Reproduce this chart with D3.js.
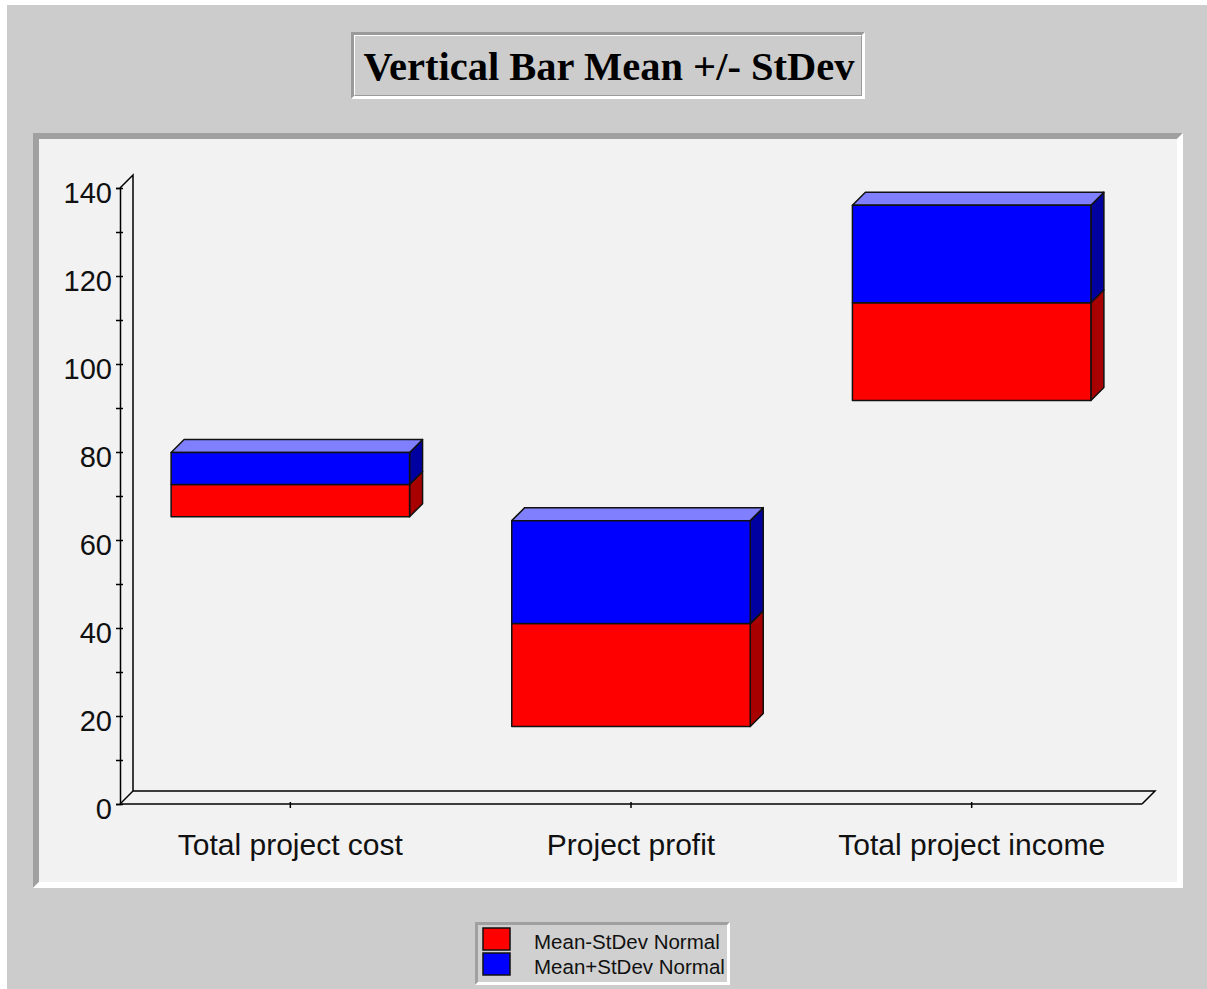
<!DOCTYPE html>
<html>
<head>
<meta charset="utf-8">
<script src="https://cdn.jsdelivr.net/npm/d3@7"></script>
<style>
  html, body { margin: 0; padding: 0; background: #ffffff; }
  svg { display: block; }
</style>
</head>
<body>
<svg id="chart" width="1207" height="989"></svg>
<script>
// Chart data
const categories = ["Total project cost", "Project profit", "Total project income"];
const means = [72.6, 41.0, 113.9];
const stdevs = [7.3, 23.4, 22.2];
const seriesNames = ["Mean-StDev Normal", "Mean+StDev Normal"];
const yTicks = [0, 20, 40, 60, 80, 100, 120, 140];

const svg = d3.select("#chart");
const W = 1207, H = 989;

// Page background (window frame)
svg.append("rect").attr("x", 7).attr("y", 5).attr("width", W - 7).attr("height", H - 5).attr("fill", "#cccccc");

// Bevel helper: dark edge on top/left, light edge on bottom/right
function bevel(g, x0, y0, x1, y1, t, dark, light) {
  g.append("path").attr("fill", dark)
    .attr("d", `M${x0},${y0}H${x1}L${x1 - t},${y0 + t}H${x0 + t}V${y1 - t}L${x0},${y1}Z`);
  g.append("path").attr("fill", light)
    .attr("d", `M${x1},${y1}H${x0}L${x0 + t},${y1 - t}H${x1 - t}V${y0 + t}L${x1},${y0}Z`);
}

// Title box
const tg = svg.append("g");
tg.append("rect").attr("x", 351).attr("y", 32).attr("width", 514).attr("height", 67).attr("fill", "#cccccc");
bevel(tg, 351, 32, 865, 99, 3, "#9a9a9a", "#ffffff");
bevel(tg, 354, 35, 862, 96, 1, "#ffffff", "#9a9a9a");
tg.append("text").attr("x", 609).attr("y", 80).attr("text-anchor", "middle")
  .attr("font-family", "Liberation Serif, Times New Roman, serif").attr("font-weight", "bold")
  .attr("font-size", 40.5).attr("fill", "#000").text("Vertical Bar Mean +/- StDev");

// Plot panel
const pg = svg.append("g");
pg.append("rect").attr("x", 33).attr("y", 133).attr("width", 1150).attr("height", 755).attr("fill", "#f2f2f2");
bevel(pg, 33, 133, 1183, 888, 6, "#a0a0a0", "#ffffff");

// Scales
const x0 = 120, x1 = 1142;
const y = d3.scaleLinear().domain([0, 140]).range([804, 188]);
const x = d3.scaleBand().domain(categories).range([x0, x1]).paddingInner(0.3).paddingOuter(0.15);
const dx = 13, dy = -13;

const ag = svg.append("g").attr("stroke", "#000").attr("stroke-width", 1.5).attr("fill", "none");
// Back wall and floor edges
ag.append("path").attr("d",
  `M${x0},${y(140)}L${x0 + dx},${y(140) + dy}V${y(0) + dy}H${x1 + dx}L${x1},${y(0)}`);
ag.append("path").attr("d", `M${x0},${y(0)}L${x0 + dx},${y(0) + dy}`);
ag.append("path").attr("d", `M${x0},${y(0)}H${x1}`);

// Y axis
const yAxis = d3.axisLeft(y)
  .tickValues(d3.range(0, 141, 10))
  .tickSize(4)
  .tickPadding(5)
  .tickFormat(d => (yTicks.includes(d) ? d : ""));
const yg = svg.append("g").attr("transform", `translate(${x0},0)`).call(yAxis);
yg.select(".domain").attr("stroke", "#000").attr("stroke-width", 1.5);
yg.selectAll(".tick line").attr("x1", 3).attr("x2", -4).attr("stroke", "#000").attr("stroke-width", 1.5);
yg.selectAll(".tick text")
  .attr("font-family", "Liberation Sans, Arial, sans-serif").attr("font-size", 29)
  .attr("fill", "#111").attr("x", -8).attr("dy", null).attr("y", 14);

// X axis
const xAxis = d3.axisBottom(x).tickSize(6).tickSizeOuter(0).tickPadding(26);
const xg = svg.append("g").attr("transform", `translate(0,${y(0)})`).call(xAxis);
xg.select(".domain").remove();
xg.selectAll(".tick line").attr("y1", -2).attr("y2", 4).attr("stroke", "#000").attr("stroke-width", 1.5);
xg.selectAll(".tick text")
  .attr("font-family", "Liberation Sans, Arial, sans-serif").attr("font-size", 30)
  .attr("fill", "#111").attr("dy", null).attr("y", 51);

// Bars: lower segment (mean - sd .. mean) and upper segment (mean .. mean + sd)
const segs = [];
categories.forEach((c, i) => {
  segs.push({ c, lo: means[i] - stdevs[i], hi: means[i], s: 0 });
  segs.push({ c, lo: means[i], hi: means[i] + stdevs[i], s: 1 });
});
const front = ["#ff0000", "#0000ff"];
const side = ["#a80000", "#0000a0"];
const topFace = "#8080ff";

const bg = svg.append("g").attr("stroke", "#111").attr("stroke-width", 1.5).attr("stroke-linejoin", "round");
bg.selectAll("path.side").data(segs).join("path").attr("class", "side")
  .attr("fill", d => side[d.s])
  .attr("d", d => {
    const xr = x(d.c) + x.bandwidth();
    return `M${xr},${y(d.hi)}L${xr + dx},${y(d.hi) + dy}V${y(d.lo) + dy}L${xr},${y(d.lo)}Z`;
  });
bg.selectAll("path.top").data(segs.filter(d => d.s === 1)).join("path").attr("class", "top")
  .attr("fill", topFace)
  .attr("d", d => {
    const xl = x(d.c), xr = xl + x.bandwidth(), yt = y(d.hi);
    return `M${xl},${yt}L${xl + dx},${yt + dy}H${xr + dx}L${xr},${yt}Z`;
  });
bg.selectAll("rect.front").data(segs).join("rect").attr("class", "front")
  .attr("x", d => x(d.c)).attr("width", x.bandwidth())
  .attr("y", d => y(d.hi)).attr("height", d => y(d.lo) - y(d.hi))
  .attr("fill", d => front[d.s]);

// Legend
const lg = svg.append("g");
lg.append("rect").attr("x", 475).attr("y", 922).attr("width", 255).attr("height", 63).attr("fill", "#d0d0d0");
bevel(lg, 475, 922, 730, 985, 3, "#a0a0a0", "#ffffff");
seriesNames.forEach((name, i) => {
  const ly = 928 + i * 25;
  lg.append("rect").attr("x", 483).attr("y", ly).attr("width", 27).attr("height", 22)
    .attr("fill", front[i]).attr("stroke", "#111").attr("stroke-width", 1.5);
  lg.append("text").attr("x", 534).attr("y", ly + 21)
    .attr("font-family", "Liberation Sans, Arial, sans-serif").attr("font-size", 20.5)
    .attr("fill", "#111").text(name);
});
</script>
</body>
</html>
